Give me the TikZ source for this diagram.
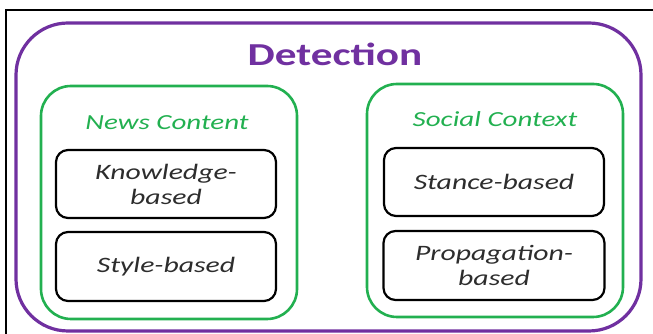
\documentclass[tikz,border=0pt]{standalone}
\usepackage{fontspec}
\setmainfont{Carlito}[FakeStretch=1.35]
\definecolor{detpurple}{RGB}{112,48,160}
\definecolor{grpgreen}{RGB}{34,176,80}
\definecolor{boxtext}{RGB}{45,45,45}
\begin{document}
\begin{tikzpicture}[x=1pt,y=1pt,
  outerbox/.style={draw=detpurple,line width=3.2pt,rounded corners=52pt,inner sep=0pt},
  groupbox/.style={draw=grpgreen,line width=2.6pt,rounded corners=30pt,inner sep=0pt},
  methodbox/.style={draw=black,line width=2.2pt,rounded corners=12pt,inner sep=0pt,
    align=center,text=boxtext,font=\fontsize{22}{25}\selectfont\itshape},
  grouptitle/.style={text=grpgreen,font=\fontsize{21.5}{24}\selectfont\itshape,inner sep=0pt,anchor=base},
  maintitle/.style={text=detpurple,font=\fontsize{32}{36}\selectfont\bfseries,inner sep=0pt,anchor=base}]
\useasboundingbox (0,0) rectangle (653,334);
\draw[line width=2.2pt,black] (6,0) -- (6,324) -- (653,324);
\node[outerbox,minimum width=625pt,minimum height=308pt] (det) at (328.5,157) {};
\node[groupbox,minimum width=256pt,minimum height=233pt] (news) at (169,131.5) {};
\node[groupbox,minimum width=256pt,minimum height=233pt] (social) at (495,133.5) {};
\node[maintitle] (dettitle) at (335,268) {Detection};
\node[grouptitle] (newstitle) at (167,204) {News Content};
\node[grouptitle] (socialtitle) at (495,207) {Social Context};
\node[methodbox,minimum width=220pt,minimum height=68pt] (know) at (166,150) {Knowledge-\\based};
\node[methodbox,minimum width=220pt,minimum height=69pt] (style) at (166,67.5) {Style-based};
\node[methodbox,minimum width=220pt,minimum height=68pt] (stance) at (494,152) {Stance-based};
\node[methodbox,minimum width=221pt,minimum height=69pt] (prop) at (494,68.5) {Propagation-\\based};
\end{tikzpicture}
\end{document}
